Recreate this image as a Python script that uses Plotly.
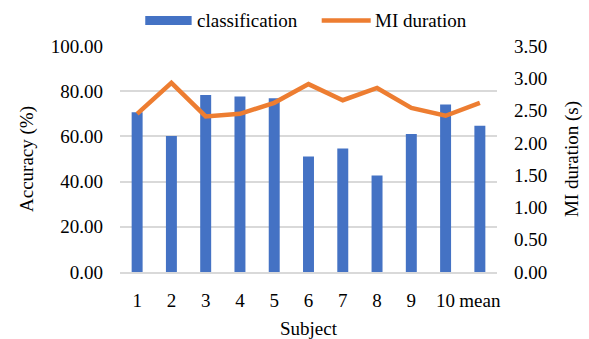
import plotly.graph_objects as go

# Per-subject results
subjects = ["1", "2", "3", "4", "5", "6", "7", "8", "9", "10", "mean"]
accuracy = [70.7, 60.2, 78.3, 77.6, 76.9, 51.1, 54.6, 42.7, 61.1, 74.1, 64.7]
mi_duration = [2.45, 2.93, 2.41, 2.45, 2.62, 2.91, 2.66, 2.85, 2.54, 2.42, 2.62]

left_ticks = [0, 20, 40, 60, 80, 100]
right_ticks = [0, 0.5, 1.0, 1.5, 2.0, 2.5, 3.0, 3.5]

BLUE = "#4472C4"
ORANGE = "#ED7D31"
GRID = "#D9D9D9"
FONT = "'Liberation Serif', 'Times New Roman', 'DejaVu Serif', serif"

fig = go.Figure()
fig.add_trace(go.Bar(
    x=subjects, y=accuracy, name="classification",
    marker=dict(color=BLUE, line=dict(width=0)),
    yaxis="y", showlegend=False,
))
fig.add_trace(go.Scatter(
    x=subjects, y=mi_duration, name="MI duration", mode="lines",
    line=dict(color=ORANGE, width=4.5),
    yaxis="y2", showlegend=False,
))

# Legend drawn above the plot area: swatch + label for each series
fig.add_shape(type="rect", xref="paper", yref="paper",
              x0=0.067, x1=0.190, y0=1.093, y1=1.133,
              fillcolor=BLUE, line=dict(width=0))
fig.add_annotation(xref="paper", yref="paper", x=0.199, y=1.113,
                   text="classification", showarrow=False,
                   xanchor="left", yanchor="middle",
                   font=dict(family=FONT, size=19, color="#000"))
fig.add_shape(type="line", xref="paper", yref="paper",
              x0=0.535, x1=0.665, y0=1.113, y1=1.113,
              line=dict(color=ORANGE, width=4.5))
fig.add_annotation(xref="paper", yref="paper", x=0.671, y=1.113,
                   text="MI duration", showarrow=False,
                   xanchor="left", yanchor="middle",
                   font=dict(family=FONT, size=19, color="#000"))

fig.update_layout(
    width=589, height=339,
    margin=dict(l=120, r=92, t=46, b=67),
    paper_bgcolor="white", plot_bgcolor="white",
    font=dict(family=FONT, size=19, color="#000"),
    bargap=0.68,
    showlegend=False,
    xaxis=dict(
        type="category", categoryarray=subjects, automargin=False,
        showgrid=False, showline=True, linecolor=GRID, linewidth=1.5,
        ticks="", ticklabelstandoff=10,
        title=dict(text="Subject", standoff=13, font=dict(size=19)),
    ),
    yaxis=dict(
        range=[0, 100], tickvals=left_ticks, tickformat=".2f",
        automargin=False,
        showgrid=True, gridcolor=GRID, gridwidth=1.5,
        zeroline=False, showline=False, ticks="",
        ticklabelstandoff=16,
        title=dict(text="Accuracy (%)", standoff=12, font=dict(size=19)),
    ),
    yaxis2=dict(
        range=[0, 3.5], tickvals=right_ticks, tickformat=".2f",
        overlaying="y", side="right", automargin=False,
        showgrid=False, zeroline=False, showline=False, ticks="",
        ticklabelstandoff=16,
        title=dict(text="MI duration (s)", standoff=18, font=dict(size=19)),
    ),
)

fig.write_html("out.html")
